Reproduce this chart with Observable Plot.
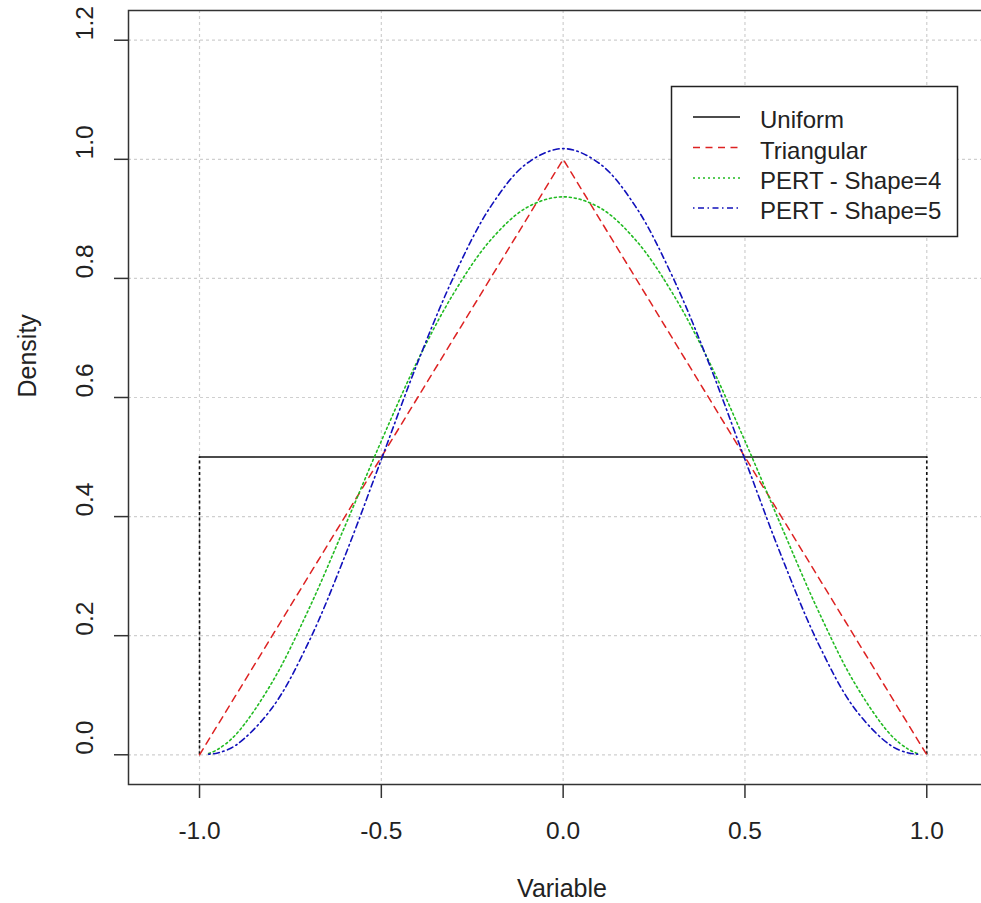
<!DOCTYPE html>
<html><head><meta charset="utf-8">
<script src="https://cdn.jsdelivr.net/npm/d3@7"></script>
<script src="https://cdn.jsdelivr.net/npm/@observablehq/plot@0.6"></script>
<style>body{margin:0;background:#fff;overflow:hidden} #chart svg{overflow:hidden;display:block}</style>
</head><body><div id="chart"></div>
<script>
// ---- data ----
const xTicks = [-1, -0.5, 0, 0.5, 1];
const yTicks = [0, 0.2, 0.4, 0.6, 0.8, 1.0, 1.2];
const uniformX = [-1, 1];
const uniformY = [0.5, 0.5];
const uniformEdges = [-1, 1];
const triX = [-1, 0, 1];
const triY = [0, 1, 0];
const pertX = [-0.975, -0.95, -0.9, -0.8, -0.7, -0.6, -0.5, -0.4, -0.3, -0.2, -0.1, 0, 0.1, 0.2, 0.3, 0.4, 0.5, 0.6, 0.7, 0.8, 0.9, 0.95, 0.975];
const pert4Y = [0.002, 0.009, 0.034, 0.122, 0.244, 0.384, 0.527, 0.662, 0.776, 0.864, 0.919, 0.937, 0.919, 0.864, 0.776, 0.662, 0.527, 0.384, 0.244, 0.122, 0.034, 0.009, 0.002];
const pert5Y = [0.001, 0.003, 0.016, 0.079, 0.189, 0.334, 0.496, 0.659, 0.804, 0.920, 0.993, 1.018, 0.993, 0.920, 0.804, 0.659, 0.496, 0.334, 0.189, 0.079, 0.016, 0.003, 0.001];
const legendLabels = ["Uniform", "Triangular", "PERT - Shape=4", "PERT - Shape=5"];
const legendColors = ["#111111", "#dd2222", "#22bb22", "#1111bb"];
const legendDash = [null, "7,5.5", "2,3", "1.5,3.5,6,3.5"];

const tri = triX.map((x, i) => ({x, y: triY[i]}));
const uni = uniformX.map((x, i) => ({x, y: uniformY[i]}));
const p4 = pertX.map((x, i) => ({x, y: pert4Y[i]}));
const p5 = pertX.map((x, i) => ({x, y: pert5Y[i]}));

const font = "Liberation Sans, Arial, sans-serif";
const W = 981, H = 903;
const mL = 128, mT = 10, mB = 119, mR = -14;

const chart = Plot.plot({
  width: W, height: H,
  marginLeft: mL, marginTop: mT, marginBottom: mB, marginRight: mR,
  style: {fontFamily: font, background: "#fff", color: "#222"},
  x: {domain: [-1.1953, 1.189]},
  y: {domain: [-0.0499, 1.2499]},
  marks: [
    Plot.ruleX(xTicks, {x: d => d, stroke: "#cfcfcf", strokeWidth: 1.2, strokeDasharray: "3,3"}),
    Plot.ruleY(yTicks, {y: d => d, stroke: "#cfcfcf", strokeWidth: 1.2, strokeDasharray: "3,3"}),
    Plot.axisX(xTicks, {tickSize: 14, tickPadding: 23, tickFormat: d => d.toFixed(1), fontSize: 24.5, label: null, stroke: "#333", strokeWidth: 1.5, fill: "#222"}),
    Plot.axisY(yTicks, {tickSize: 14, tickFormat: () => "", label: null, stroke: "#333", strokeWidth: 1.5}),
    Plot.text(yTicks, {y: d => d, frameAnchor: "left", text: d => d.toFixed(1), rotate: -90, lineAnchor: "bottom", dx: -36, fontSize: 24.5, fill: "#222"}),
    Plot.text(["Variable"], {frameAnchor: "bottom", dy: 112, lineAnchor: "bottom", fontSize: 25, fill: "#222", text: d => d}),
    Plot.text(["Density"], {frameAnchor: "left", dx: -101, rotate: -90, lineAnchor: "middle", fontSize: 25, fill: "#222", text: d => d}),
    Plot.line(uni, {x: "x", y: "y", stroke: legendColors[0], strokeWidth: 1.6}),
    Plot.ruleX(uniformEdges, {x: d => d, y1: 0, y2: 0.5, stroke: legendColors[0], strokeWidth: 1.6, strokeDasharray: "3,2.7"}),
    Plot.line(tri, {x: "x", y: "y", stroke: legendColors[1], strokeWidth: 1.5, strokeDasharray: legendDash[1]}),
    Plot.line(p4, {x: "x", y: "y", stroke: legendColors[2], strokeWidth: 1.6, strokeDasharray: legendDash[2], curve: "catmull-rom"}),
    Plot.line(p5, {x: "x", y: "y", stroke: legendColors[3], strokeWidth: 1.6, strokeDasharray: legendDash[3], curve: "catmull-rom"}),
    Plot.frame({stroke: "#333", strokeWidth: 1.5})
  ]
});

// legend
const svg = d3.select(chart);
const lg = svg.append("g").attr("text-anchor", "start");
lg.append("rect").attr("x", 671.5).attr("y", 86.5).attr("width", 286).attr("height", 150)
  .attr("fill", "#fff").attr("stroke", "#222").attr("stroke-width", 1.5);
const rowY = [117, 147.5, 178, 208];
legendLabels.forEach((lab, i) => {
  lg.append("line").attr("x1", 693).attr("x2", 740).attr("y1", rowY[i]).attr("y2", rowY[i])
    .attr("stroke", legendColors[i]).attr("stroke-width", 1.6)
    .attr("stroke-dasharray", legendDash[i]);
  lg.append("text").attr("x", 760).attr("y", rowY[i] + 11).attr("text-anchor", "start")
    .attr("font-family", font).attr("font-size", 24).attr("fill", "#222").text(lab);
});

document.getElementById("chart").appendChild(chart);
</script></body></html>
